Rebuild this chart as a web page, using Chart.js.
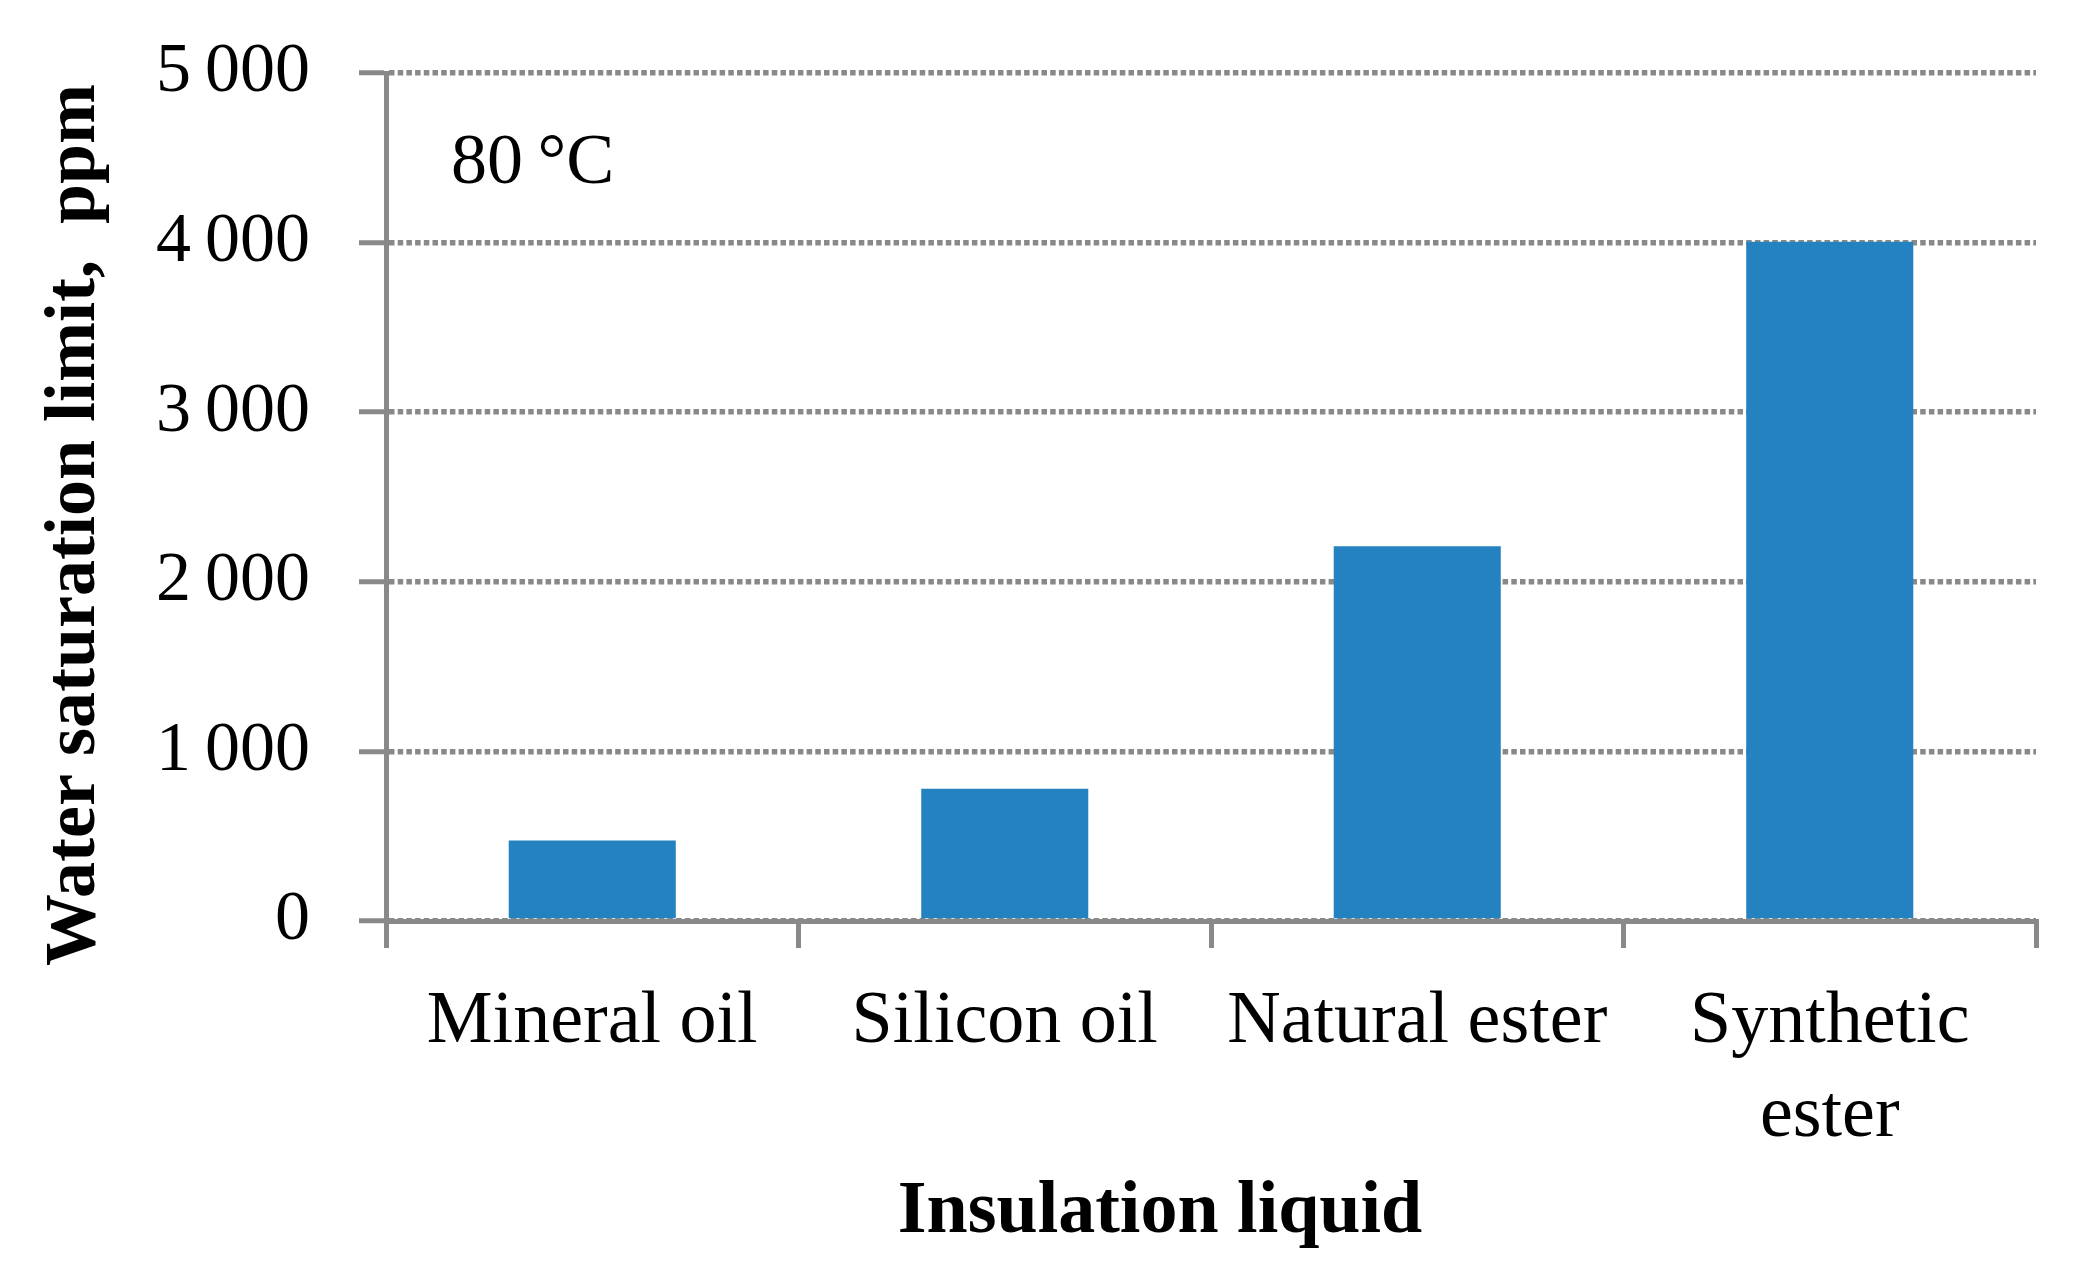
<!DOCTYPE html>
<html>
<head>
<meta charset="utf-8">
<script src="https://cdn.jsdelivr.net/npm/chart.js@4"></script>
<style>
  body { margin: 0; background: #ffffff; }
  #wrap { width: 2086px; height: 1277px; }
</style>
</head>
<body>
<div id="wrap"><canvas id="myChart" width="2086" height="1277"></canvas></div>
<script>
  // data
  var liquids = ["Mineral oil", "Silicon oil", "Natural ester", ["Synthetic", "ester"]];
  var saturationPpm = [475, 780, 2210, 4005];
  var yTicks = [0, 1000, 2000, 3000, 4000, 5000];
  var yTitle = "Water saturation limit,  ppm";
  var xTitle = "Insulation liquid";
  var tempNote = "80\u2009\u00b0C";

  var gray = "#898989";
  var serif = "'Liberation Serif', 'Times New Roman', serif";

  function withThinSpace(v) {
    return String(v).replace(/\B(?=(\d{3})+(?!\d))/g, "\u2009");
  }

  // axis titles + temperature note
  var textPlugin = {
    id: "texts",
    afterDraw: function(chart) {
      var ctx = chart.ctx;
      ctx.save();
      ctx.fillStyle = "#000";
      ctx.textBaseline = "alphabetic";

      ctx.font = "72px " + serif;
      ctx.textAlign = "left";
      ctx.fillText(tempNote, chart.chartArea.left + 65, 183);

      ctx.font = "bold 74px " + serif;
      ctx.textAlign = "center";
      ctx.fillText(xTitle, 1160, 1232);

      ctx.translate(94, 525);
      ctx.rotate(-Math.PI / 2);
      ctx.font = "bold 72px " + serif;
      ctx.fillText(yTitle, 0, 0);
      ctx.restore();
    }
  };

  var ctx = document.getElementById('myChart').getContext('2d');
  this.chart = new Chart(ctx, {
    type: "bar",
    data: {
      labels: liquids,
      datasets: [
        {
          label: "Water saturation limit",
          backgroundColor: "#2482C0",
          borderWidth: 0,
          barPercentage: 0.405,
          categoryPercentage: 1,
          data: saturationPpm
        }
      ]
    },
    options: {
      responsive: false,
      devicePixelRatio: 1,
      animation: false,
      layout: { padding: { top: 73, right: 50, bottom: 0, left: 0 } },
      plugins: {
        legend: { display: false },
        tooltip: { enabled: false }
      },
      scales: {
        x: {
          afterFit: function(scale) {
            scale.height = 356;
            scale.paddingTop = 0;
            scale.paddingBottom = 0;
          },
          border: { display: true, color: gray, width: 5 },
          grid: {
            offset: true,
            drawOnChartArea: true,
            color: function(c) { return c.index === liquids.length ? gray : "rgba(0,0,0,0)"; },
            lineWidth: 5,
            tickColor: gray,
            tickWidth: 5,
            tickLength: 27
          },
          ticks: {
            color: "#000",
            autoSkip: false,
            maxRotation: 0,
            padding: 28,
            font: { family: serif, size: 74, lineHeight: 1.27 }
          }
        },
        y: {
          min: 0,
          max: 5000,
          afterFit: function(scale) {
            scale.width = 386;
            scale.paddingTop = 0;
            scale.paddingBottom = 0;
          },
          afterBuildTicks: function(scale) {
            scale.ticks = yTicks.map(function(v) { return { value: v }; });
          },
          border: { display: true, color: gray, width: 5, dash: [5.5, 3.2] },
          grid: {
            color: gray,
            lineWidth: 5.5,
            tickColor: gray,
            tickWidth: 5,
            tickLength: 27,
            tickBorderDash: []
          },
          ticks: {
            color: "#000",
            padding: 49,
            font: { family: serif, size: 70 },
            callback: function(v) { return withThinSpace(v); }
          }
        }
      }
    },
    plugins: [textPlugin]
  });
</script>
</body>
</html>
